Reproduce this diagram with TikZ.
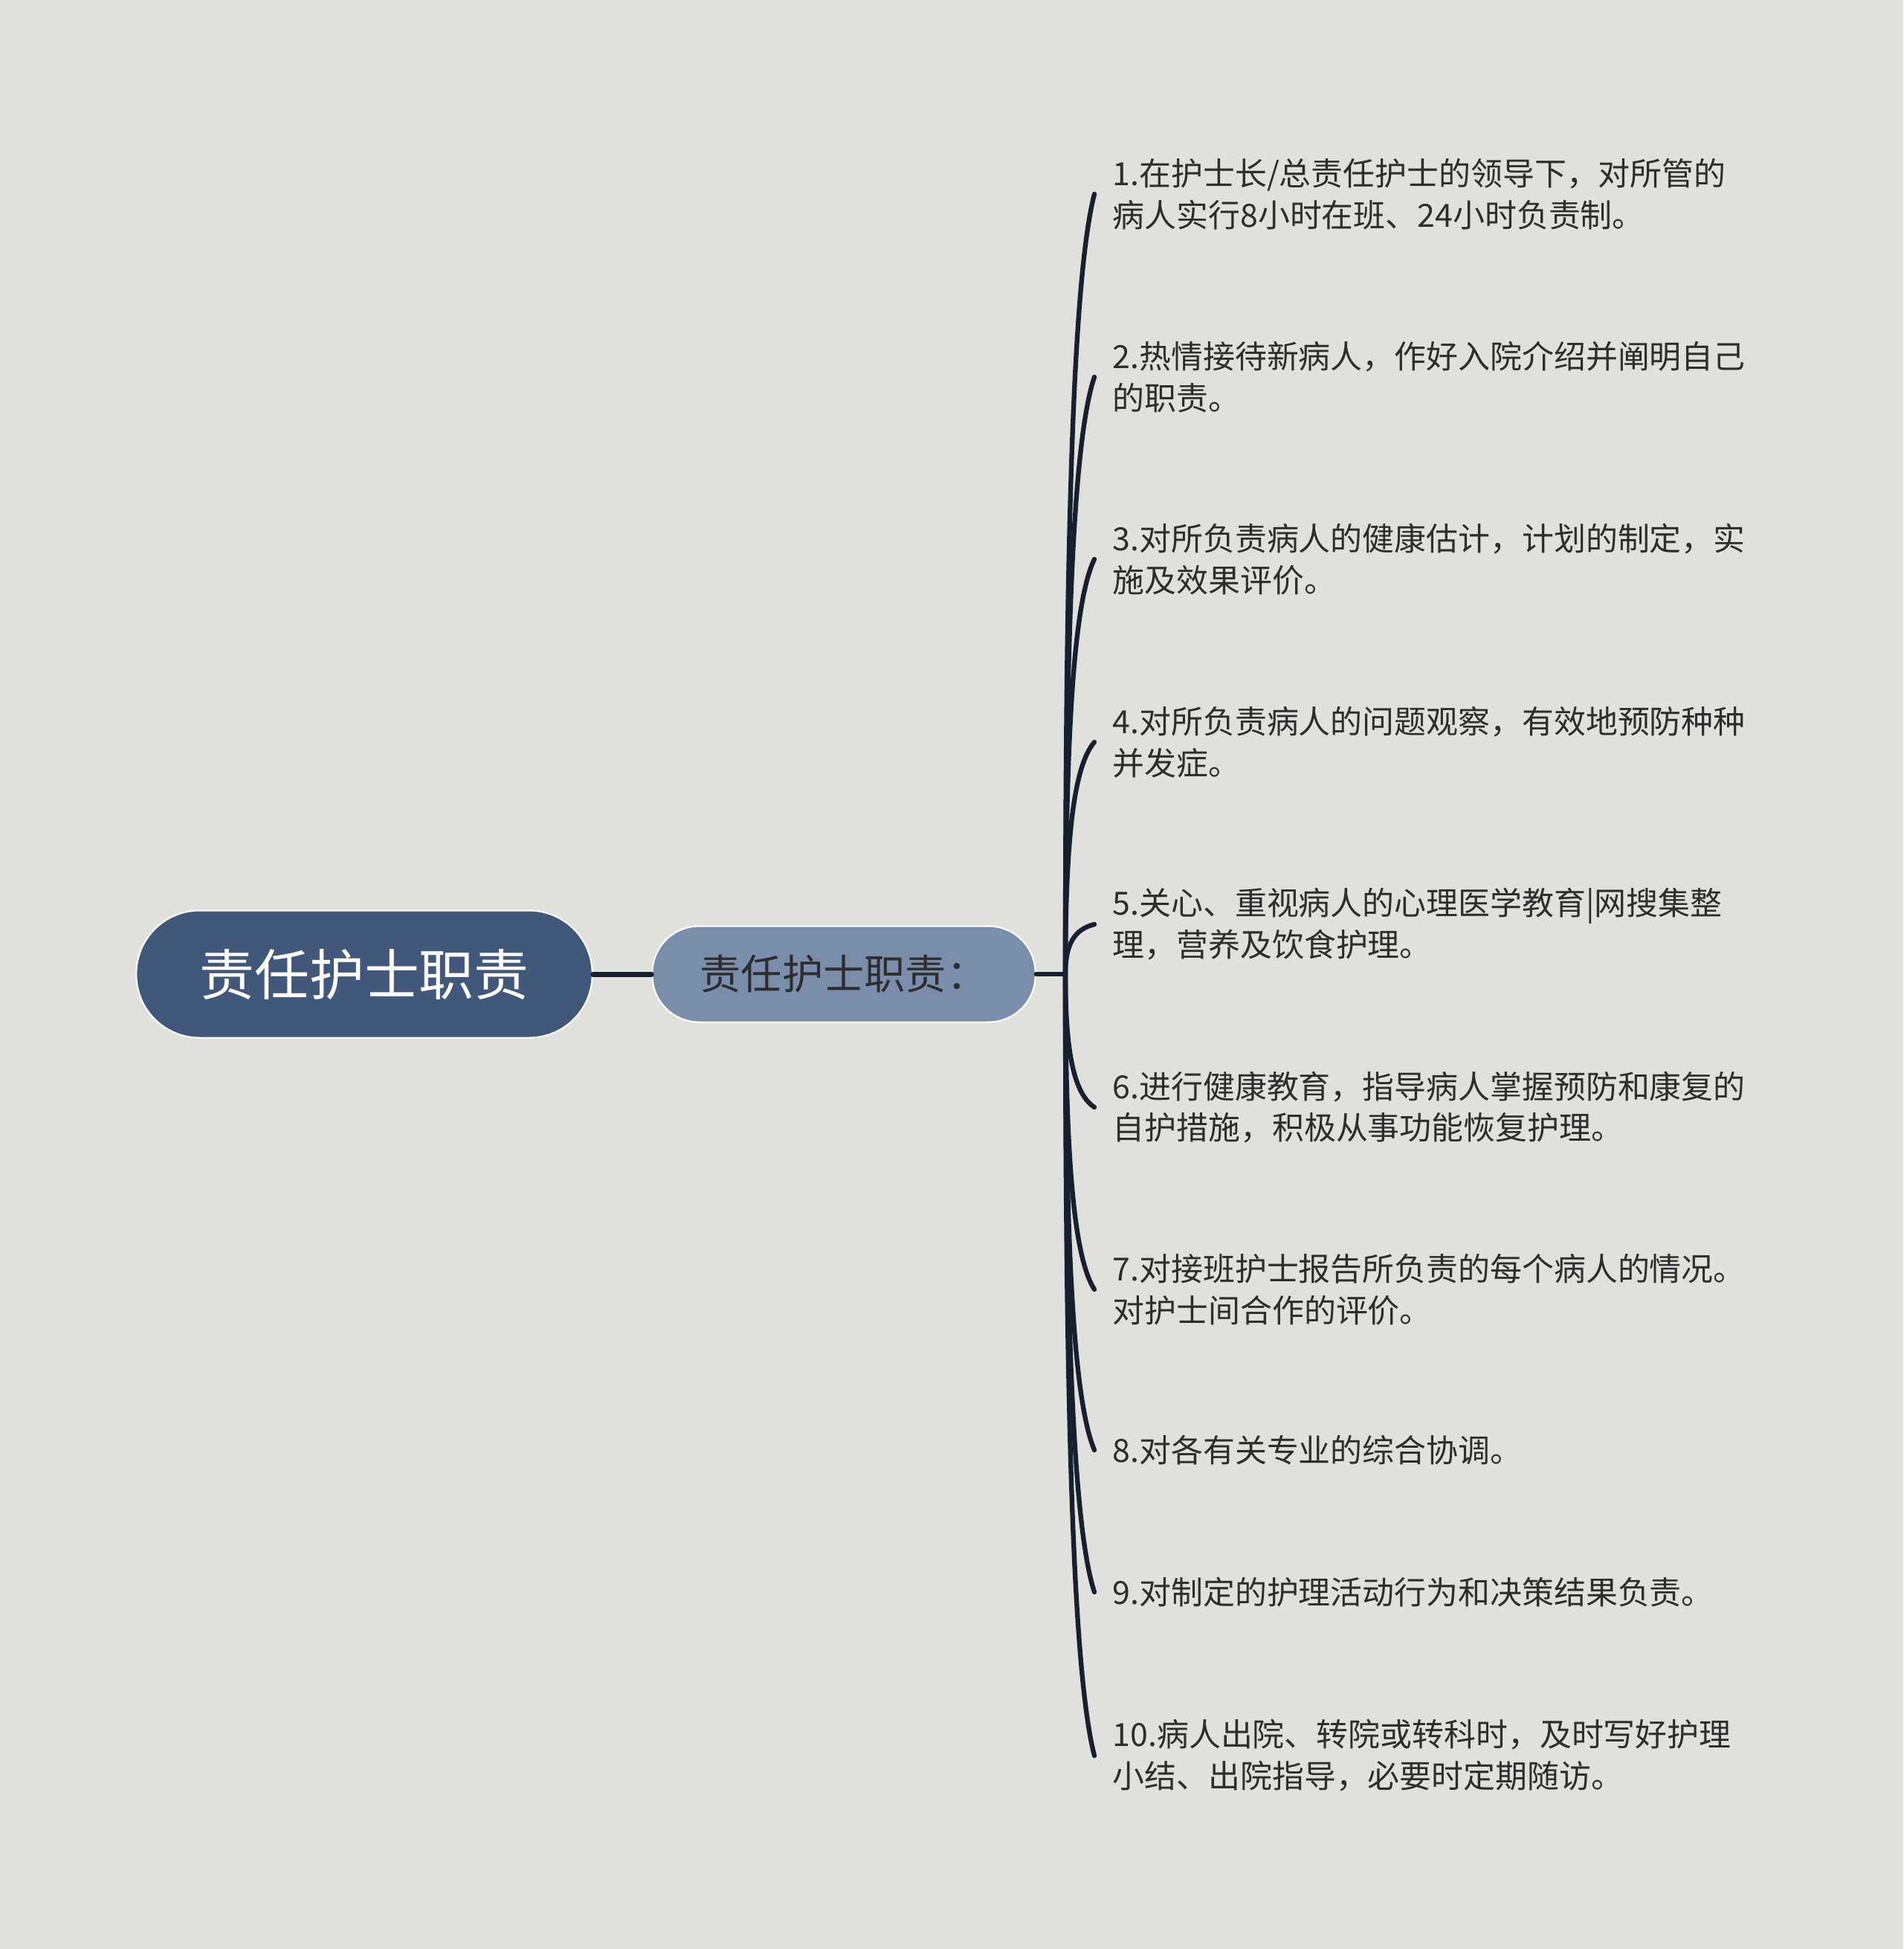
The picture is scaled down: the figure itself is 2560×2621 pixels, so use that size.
\documentclass[tikz,border=0pt]{standalone}
\usepackage{fontspec}
\setmainfont{Noto Sans CJK SC}
\usetikzlibrary{positioning, calc}

\definecolor{bgcol}{RGB}{224,225,220}
\definecolor{rootcol}{RGB}{65,88,122}
\definecolor{subcol}{RGB}{122,141,171}
\definecolor{linecol}{RGB}{23,32,46}
\definecolor{txtcol}{RGB}{45,45,45}

\begin{document}
\begin{tikzpicture}[x=0.01cm, y=-0.01cm,
  rootbox/.style={rectangle, rounded corners=0.85cm, fill=rootcol, draw=white, line width=0.6pt, minimum width=6.13cm, minimum height=1.71cm, text=white, font=\fontsize{21pt}{24pt}\selectfont},
  subbox/.style={rectangle, rounded corners=0.63cm, fill=subcol, draw=white, line width=0.6pt, minimum width=5.15cm, minimum height=1.29cm, text=txtcol, font=\fontsize{15.7pt}{18pt}\selectfont},
  leaf/.style={anchor=west, align=left, inner xsep=0.24cm, inner ysep=0pt, text=txtcol, font=\fontsize{12.2pt}{15.9pt}\selectfont},
  branch/.style={draw=linecol, line width=1.8pt, line cap=round}]

        % background and size
        \fill[bgcol] (0,0) rectangle (2560,2621);

        % main nodes
        \node[rootbox] (root) at (490,1310) {责任护士职责};
        \node[subbox] (sub) at (1135,1310) {责任护士职责：};
        \coordinate (hub) at (1433,1310);

        \draw[branch, line width=2pt] (root.east) -- (sub.west);
        \draw[branch] (sub.east) -- (hub);

        % leaves
        \node[leaf] (l1) at (1472,261) {1.在护士长/总责任护士的领导下，对所管的\\病人实行8小时在班、24小时负责制。};
        \node[leaf] (l2) at (1472,507) {2.热情接待新病人，作好入院介绍并阐明自己\\的职责。};
        \node[leaf] (l3) at (1472,752) {3.对所负责病人的健康估计，计划的制定，实\\施及效果评价。};
        \node[leaf] (l4) at (1472,998) {4.对所负责病人的问题观察，有效地预防种种\\并发症。};
        \node[leaf] (l5) at (1472,1243) {5.关心、重视病人的心理医学教育|网搜集整\\理，营养及饮食护理。};
        \node[leaf] (l6) at (1472,1489) {6.进行健康教育，指导病人掌握预防和康复的\\自护措施，积极从事功能恢复护理。};
        \node[leaf] (l7) at (1472,1734) {7.对接班护士报告所负责的每个病人的情况。\\对护士间合作的评价。};
        \node[leaf] (l8) at (1472,1950) {8.对各有关专业的综合协调。};
        \node[leaf] (l9) at (1472,2141) {9.对制定的护理活动行为和决策结果负责。};
        \node[leaf] (l10) at (1472,2361) {10.病人出院、转院或转科时，及时写好护理\\小结、出院指导，必要时定期随访。};

        % curved branches from the hub
        \foreach \i in {1,...,10} {
            \draw[branch] (hub) .. controls ($(hub)!0.6!(hub |- l\i.west)$) and ($(hub |- l\i.west)!0.1!(hub) + (12,0)$) .. (l\i.west);
        }

\end{tikzpicture}
\end{document}
